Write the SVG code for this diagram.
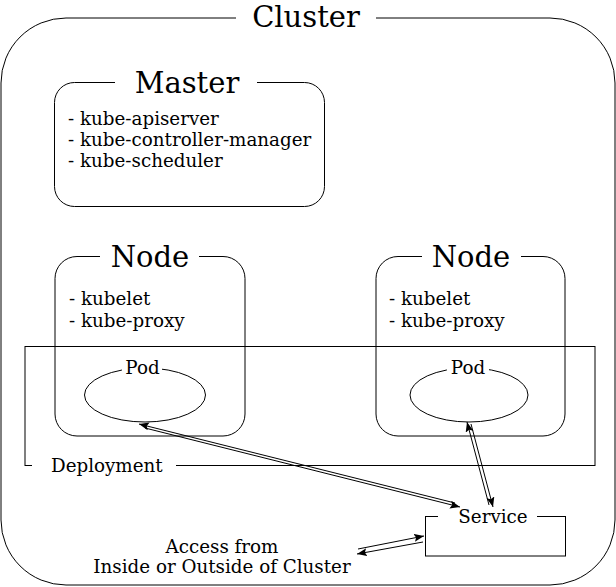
<svg xmlns="http://www.w3.org/2000/svg" width="616" height="587" viewBox="0 0 616 587">
<style>
.box{fill:none;stroke:#000;stroke-width:1}
.gap{fill:#fff;stroke:none}
.t{font-family:"DejaVu Serif","Liberation Serif",serif;fill:#000}
.big{font-size:29px}
.sm{font-size:18.3px}
.conn{stroke:#000;stroke-width:1;fill:none;marker-end:url(#ah)}
</style>
<defs>
<marker id="ah" markerUnits="userSpaceOnUse" markerWidth="12" markerHeight="10" refX="10" refY="4" orient="auto">
<path d="M0,0 L10,4 L0,8 L2,4 z" fill="#000"/>
</marker>
</defs>
<rect width="616" height="587" fill="#fff"/>
<g id="cluster">
<rect class="box" x="1" y="18" width="614" height="567" rx="65" ry="65"/>
<rect class="gap" x="236" y="8" width="140" height="16"/>
<text class="t big" x="306" y="27" text-anchor="middle">Cluster</text>
</g>
<g id="master">
<rect class="box" x="54.5" y="82.5" width="270" height="124" rx="20" ry="20"/>
<rect class="gap" x="115" y="76" width="142" height="12"/>
<text class="t big" x="187" y="93" text-anchor="middle">Master</text>
<text class="t sm" x="68" y="125">- kube-apiserver</text>
<text class="t sm" x="68" y="146">- kube-controller-manager</text>
<text class="t sm" x="68" y="167">- kube-scheduler</text>
</g>
<g id="node1">
<rect class="box" x="55" y="256.5" width="190" height="179.5" rx="22" ry="22"/>
<rect class="gap" x="100" y="250" width="99" height="12"/>
<text class="t big" x="150" y="267" text-anchor="middle">Node</text>
<text class="t sm" x="69" y="305">- kubelet</text>
<text class="t sm" x="69" y="327">- kube-proxy</text>
</g>
<g id="node2">
<rect class="box" x="376" y="256.5" width="189" height="179.5" rx="22" ry="22"/>
<rect class="gap" x="422" y="250" width="99" height="12"/>
<text class="t big" x="471" y="267" text-anchor="middle">Node</text>
<text class="t sm" x="389" y="305">- kubelet</text>
<text class="t sm" x="389" y="327">- kube-proxy</text>
</g>
<g id="deployment">
<rect class="box" x="25" y="346.5" width="570" height="119"/>
<rect class="gap" x="32" y="458" width="144" height="14"/>
<text class="t sm" x="51" y="472">Deployment</text>
</g>
<g id="pod1">
<ellipse class="box" cx="145" cy="395" rx="60.5" ry="27"/>
<rect class="gap" x="122" y="362" width="40" height="12"/>
<text class="t sm" x="142.5" y="374" text-anchor="middle">Pod</text>
</g>
<g id="pod2">
<ellipse class="box" cx="469" cy="395" rx="59" ry="27"/>
<rect class="gap" x="447" y="362" width="42" height="12"/>
<text class="t sm" x="468" y="374" text-anchor="middle">Pod</text>
</g>
<g id="service">
<rect class="box" x="425.5" y="516.5" width="140" height="39.5"/>
<rect class="gap" x="438" y="510" width="99" height="12"/>
<text class="t sm" x="493" y="523" text-anchor="middle">Service</text>
</g>
<g id="access">
<text class="t sm" x="222" y="553" text-anchor="middle">Access from</text>
<text class="t sm" x="222" y="573" text-anchor="middle">Inside or Outside of Cluster</text>
</g>
<g id="connectors">
<line class="conn" x1="455" y1="503" x2="139" y2="424"/>
<line class="conn" x1="145" y1="428" x2="460" y2="507"/>
<line class="conn" x1="489" y1="505" x2="467" y2="422"/>
<line class="conn" x1="471" y1="424" x2="493" y2="507"/>
<line class="conn" x1="358" y1="549" x2="424" y2="536"/>
<line class="conn" x1="423" y1="542" x2="357" y2="554"/>
</g>
</svg>
